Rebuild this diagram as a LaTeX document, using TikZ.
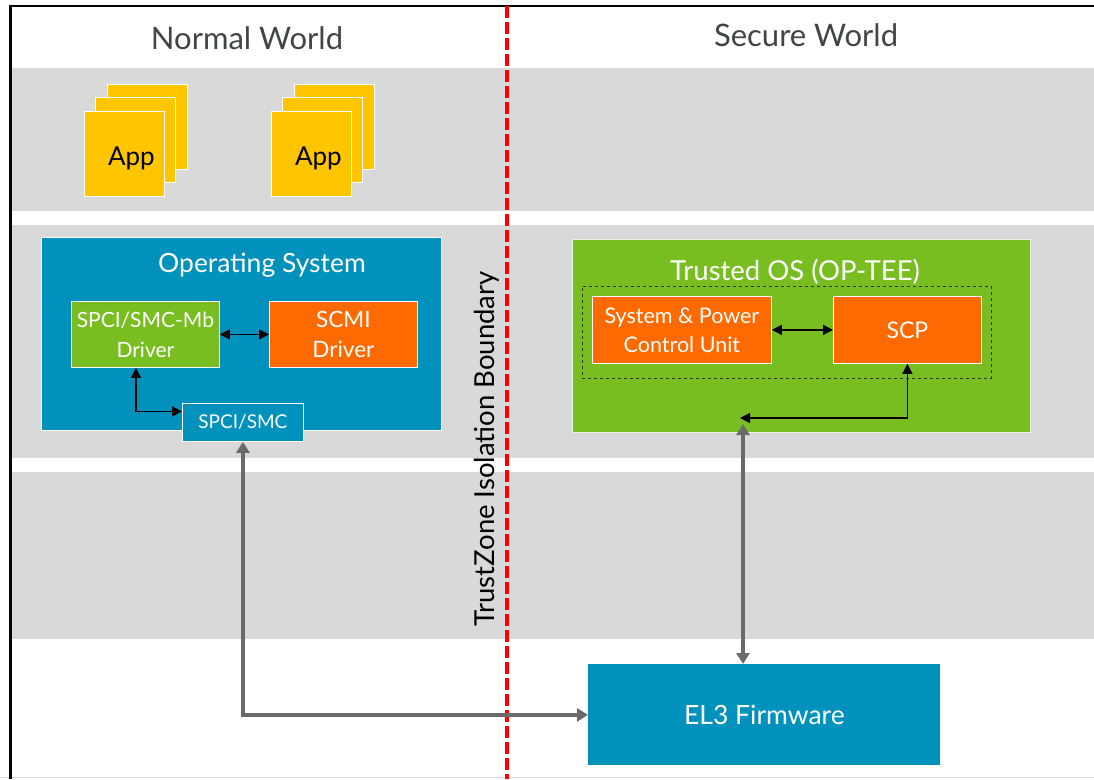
\documentclass[tikz,border=0pt]{standalone}
\usepackage{fontspec}
\setmainfont{Lato}
\usetikzlibrary{arrows.meta,calc}
\definecolor{band}{HTML}{D9D9D9}
\definecolor{osblue}{HTML}{0091BD}
\definecolor{tgreen}{HTML}{78BE21}
\definecolor{orng}{HTML}{FF6A00}
\definecolor{appy}{HTML}{FFC600}
\definecolor{garrow}{HTML}{6A6A6A}
\definecolor{ttl}{HTML}{404547}
\begin{document}
\begin{tikzpicture}[x=1pt,y=-1pt,
  box/.style={draw=white, line width=0.8pt, inner sep=0pt, text=white, align=center, anchor=north west},
  app/.style={box, fill=appy, minimum width=80pt, minimum height=85pt},
  apptxt/.style={text=black, font=\fontsize{26}{30}\selectfont},
  blk/.style={line width=1.4pt, {Triangle[length=10pt,width=10pt]}-{Triangle[length=10pt,width=10pt]}},
  gry/.style={line width=4.5pt, draw=garrow, {Triangle[length=11pt,width=13pt]}-{Triangle[length=11pt,width=13pt]}},
  wtitle/.style={text=ttl, font=\fontsize{31}{35}\selectfont},
  btitle/.style={text=white, font=\fontsize{26.5}{30}\selectfont}
]
\useasboundingbox (0,0) rectangle (1094,779);
\fill[white] (0,0) rectangle (1094,779);
% bands
\fill[band] (12,68) rectangle (1094,211);
\fill[band] (12,225) rectangle (1094,458);
\fill[band] (12,472) rectangle (1094,639);
\draw[band, line width=1pt] (0,777) -- (1094,777);
% frame
\draw[black, line width=2.2pt] (10.5,779) -- (10.5,6) -- (1094,6);
% titles
\node[wtitle] (nw) at (247,38) {Normal World};
\node[wtitle] (sw) at (806,35) {Secure World};
% apps
\node[app] (a1c) at (107,84) {};
\node[app] (a1b) at (95,97) {};
\node[app] (a1a) at (84,111) {};
\node[apptxt] (a1t) at ($(a1a.center)+(7,5)$) {App};
\node[app] (a2c) at (294,84) {};
\node[app] (a2b) at (282,97) {};
\node[app] (a2a) at (271,111) {};
\node[apptxt] (a2t) at ($(a2a.center)+(7,5)$) {App};
% Operating system
\node[box, fill=osblue, minimum width=400pt, minimum height=193pt] (os) at (41,237) {};
\node[btitle] (ost) at (262,265) {Operating System};
\node[box, fill=tgreen, minimum width=148pt, minimum height=66pt, font=\fontsize{21}{30}\selectfont] (drv) at (71,301) {SPCI/SMC-Mb\\Driver};
\node[box, fill=orng, minimum width=148pt, minimum height=66pt, font=\fontsize{22.5}{30}\selectfont] (scmi) at (269,301) {SCMI\\Driver};
\node[box, fill=osblue, minimum width=121pt, minimum height=38pt, font=\fontsize{19}{22}\selectfont] (smc) at (182,403) {SPCI/SMC};
\draw[blk] (drv) -- (scmi);
\draw[blk] ([xshift=65pt]drv.south west) |- ([yshift=11pt]smc.west);
% Trusted OS
\node[box, fill=tgreen, draw=white!85!tgreen, minimum width=458pt, minimum height=193pt] (tos) at (572,239) {};
\node[btitle, font=\fontsize{27.5}{31}\selectfont] (tost) at (795,272) {Trusted OS (OP-TEE)};
\node[draw=black!80, dashed, line width=0.9pt, minimum width=409pt, minimum height=92pt, inner sep=0pt, anchor=north west] (grp) at (582,286) {};
\node[box, fill=orng, minimum width=179pt, minimum height=67pt, font=\fontsize{21.5}{29}\selectfont] (spcu) at (592,296) {System \& Power\\Control Unit};
\node[box, fill=orng, minimum width=148pt, minimum height=67pt, font=\fontsize{23}{27}\selectfont] (scp) at (833,296) {SCP};
\draw[blk] (spcu) -- (scp);
\coordinate (tosl) at (740,418);
\draw[blk] (scp.south) |- (tosl);
% EL3
\node[box, draw=none, fill=osblue, minimum width=352pt, minimum height=101pt, font=\fontsize{26.5}{30}\selectfont] (el3) at (588,664) {EL3 Firmware};
% boundary
\draw[red, line width=3.5pt, dash pattern=on 12pt off 4pt] (507,6) -- (507,779);
\node[rotate=90, font=\fontsize{27.5}{31}\selectfont, text=black] (tz) at (487,449) {TrustZone Isolation Boundary};
% gray arrows
\draw[gry] (smc.south) |- (el3.west);
\coordinate (tosb) at (743,424);
\draw[gry] (tosb) -- (tosb |- el3.north);
\end{tikzpicture}
\end{document}
